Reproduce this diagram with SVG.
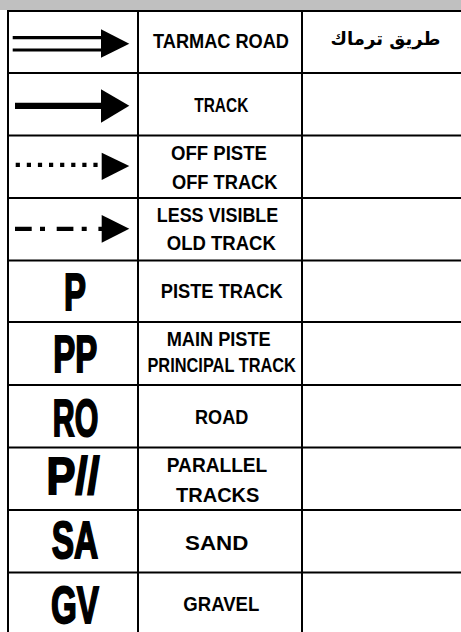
<svg xmlns="http://www.w3.org/2000/svg" width="461" height="632" viewBox="0 0 461 632">
<style>
.t { font-family: "Liberation Sans", Arial, sans-serif; font-weight: bold; font-size: 20.5px; fill: #000; text-anchor: middle; }
.ts { font-family: "Liberation Sans", Arial, sans-serif; font-weight: bold; font-size: 20.5px; fill: #000; text-anchor: start; }
.big { font-family: "Liberation Sans", Arial, sans-serif; font-weight: bold; font-size: 52px; fill: #000; stroke: #000; stroke-width: 2; text-anchor: middle; }
.ar { font-family: "DejaVu Sans", "Noto Sans", sans-serif; font-weight: bold; font-size: 18px; fill: #000; text-anchor: middle; }
.grid line { stroke: #000; stroke-width: 2; }
.head { fill: #000; }
</style>
<rect x="0" y="0" width="461" height="632" fill="#fff"/>
<rect x="0" y="0" width="461" height="10" fill="#c0c0c0"/>
<g id="table" class="grid">
  <line x1="8" y1="11" x2="461" y2="11"/>
  <line x1="8" y1="73" x2="461" y2="73"/>
  <line x1="8" y1="135.5" x2="461" y2="135.5"/>
  <line x1="8" y1="198" x2="461" y2="198"/>
  <line x1="8" y1="260.5" x2="461" y2="260.5"/>
  <line x1="8" y1="322" x2="461" y2="322"/>
  <line x1="8" y1="385" x2="461" y2="385"/>
  <line x1="8" y1="447.5" x2="461" y2="447.5"/>
  <line x1="8" y1="510" x2="461" y2="510"/>
  <line x1="8" y1="572.5" x2="461" y2="572.5"/>
  <line x1="8" y1="10" x2="8" y2="632"/>
  <line x1="138" y1="10" x2="138" y2="632"/>
  <line x1="302" y1="10" x2="302" y2="632"/>
</g>
<g id="connectors">
  <g id="tarmac-arrow">
    <line x1="12.7" y1="37.7" x2="102" y2="37.7" stroke="#000" stroke-width="3.2"/>
    <line x1="12.7" y1="50" x2="102" y2="50" stroke="#000" stroke-width="3.2"/>
    <polygon class="head" points="101,29.3 129.3,43.7 101,57.8"/>
  </g>
  <g id="track-arrow">
    <line x1="15" y1="105.8" x2="102" y2="105.8" stroke="#000" stroke-width="6.3"/>
    <polygon class="head" points="101,89.3 129.3,105.8 101,122.7"/>
  </g>
  <g id="offpiste-arrow">
    <line x1="15.7" y1="164.8" x2="101" y2="164.8" stroke="#000" stroke-width="4.3" stroke-dasharray="4.2 6.9"/>
    <polygon class="head" points="101.7,152.7 129.3,166 101.7,180"/>
  </g>
  <g id="lessvisible-arrow">
    <line x1="15" y1="228.8" x2="102" y2="228.8" stroke="#000" stroke-width="4.3" stroke-dasharray="16.7 8.3 5 11.7"/>
    <polygon class="head" points="101.7,215 129.3,228.8 101.7,242.7"/>
  </g>
</g>
<g id="row-tarmac">
  <text class="t" x="221" y="48" textLength="136" lengthAdjust="spacingAndGlyphs">TARMAC ROAD</text>
  <text class="ar" x="385.5" y="45" direction="rtl">طريق ترماك</text>
</g>
<g id="row-track">
  <text class="t" x="221.3" y="111.5" textLength="54" lengthAdjust="spacingAndGlyphs">TRACK</text>
</g>
<g id="row-offpiste">
  <text class="ts" x="171" y="159.5" textLength="96" lengthAdjust="spacingAndGlyphs">OFF PISTE</text>
  <text class="ts" x="172" y="188.5" textLength="105.5" lengthAdjust="spacingAndGlyphs">OFF TRACK</text>
</g>
<g id="row-lessvisible">
  <text class="t" x="217.5" y="221.5" textLength="121.5" lengthAdjust="spacingAndGlyphs">LESS VISIBLE</text>
  <text class="t" x="221.3" y="249.5" textLength="109" lengthAdjust="spacingAndGlyphs">OLD TRACK</text>
</g>
<g id="row-piste">
  <text class="big" x="75" y="310" textLength="22" lengthAdjust="spacingAndGlyphs">P</text>
  <text class="t" x="221.7" y="297.5" textLength="122" lengthAdjust="spacingAndGlyphs">PISTE TRACK</text>
</g>
<g id="row-mainpiste">
  <text class="big" x="75.3" y="371.5" textLength="44" lengthAdjust="spacingAndGlyphs">PP</text>
  <text class="t" x="218.7" y="345.7" textLength="104" lengthAdjust="spacingAndGlyphs">MAIN PISTE</text>
  <text class="t" x="221.7" y="372.3" textLength="148.5" lengthAdjust="spacingAndGlyphs">PRINCIPAL TRACK</text>
</g>
<g id="row-road">
  <text class="big" x="75.5" y="435.5" textLength="45.5" lengthAdjust="spacingAndGlyphs">RO</text>
  <text class="t" x="221.7" y="424" textLength="53.3" lengthAdjust="spacingAndGlyphs">ROAD</text>
</g>
<g id="row-parallel">
  <text class="big" x="73" y="494" textLength="53" lengthAdjust="spacingAndGlyphs">P//</text>
  <text class="t" x="217" y="471.7" textLength="100.5" lengthAdjust="spacingAndGlyphs">PARALLEL</text>
  <text class="t" x="217.7" y="501.7" textLength="83.3" lengthAdjust="spacingAndGlyphs">TRACKS</text>
</g>
<g id="row-sand">
  <text class="big" x="75" y="557.5" textLength="46.5" lengthAdjust="spacingAndGlyphs">SA</text>
  <text class="t" x="216.7" y="550" textLength="63.3" lengthAdjust="spacingAndGlyphs">SAND</text>
</g>
<g id="row-gravel">
  <text class="big" x="75" y="622.5" textLength="48" lengthAdjust="spacingAndGlyphs">GV</text>
  <text class="t" x="221.3" y="611" textLength="76" lengthAdjust="spacingAndGlyphs">GRAVEL</text>
</g>
</svg>
